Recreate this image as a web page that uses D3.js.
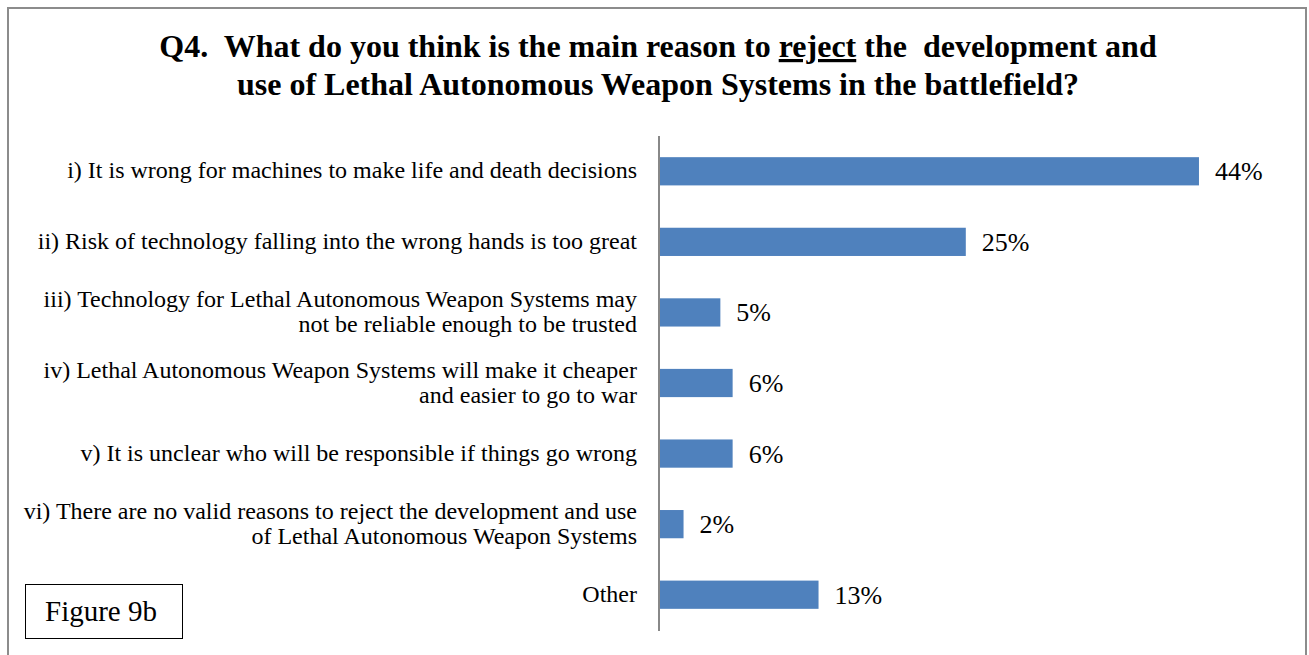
<!DOCTYPE html>
<html>
<head>
<meta charset="utf-8">
<script src="https://cdn.jsdelivr.net/npm/d3@7/dist/d3.min.js"></script>
<style>
  html, body { margin: 0; padding: 0; background: #fff; }
  svg { display: block; }
  text { font-family: "Liberation Serif", "Times New Roman", serif; white-space: pre; }
</style>
</head>
<body>
<svg id="chart" width="1309" height="655"></svg>
<script>
// Survey answers (each label may span two lines)
const categories = [
  ["i) It is wrong for machines to make life and death decisions"],
  ["ii) Risk of technology falling into the wrong hands is too great"],
  ["iii) Technology for Lethal Autonomous Weapon Systems may", "not be reliable enough to be trusted"],
  ["iv) Lethal Autonomous Weapon Systems will make it cheaper", "and easier to go to war"],
  ["v) It is unclear who will be responsible if things go wrong"],
  ["vi) There are no valid reasons to reject the development and use", "of Lethal Autonomous Weapon Systems"],
  ["Other"]
];
const percentages = [44, 25, 5, 6, 6, 2, 13];
const valueLabels = ["44%", "25%", "5%", "6%", "6%", "2%", "13%"];

const svg = d3.select("#chart");

// Outer frame
svg.append("rect")
  .attr("x", 8).attr("y", 8).attr("width", 1298).attr("height", 660)
  .attr("fill", "none").attr("stroke", "#8c8c8c").attr("stroke-width", 2);

// Title
const title = svg.append("text")
  .attr("text-anchor", "middle")
  .attr("font-weight", "bold")
  .attr("font-size", 32)
  .attr("fill", "#000");
const line1 = title.append("tspan").attr("x", 658).attr("y", 57);
line1.append("tspan").text("Q4.  What do you think is the main reason to ");
line1.append("tspan").attr("text-decoration", "underline").text("reject");
line1.append("tspan").text(" the  development and");
title.append("tspan").attr("x", 658).attr("y", 95)
  .text("use of Lethal Autonomous Weapon Systems in the battlefield?");

// Scales
const x = d3.scaleLinear().domain([0, 50]).range([659, 1272.6]);
const y = d3.scaleBand()
  .domain(d3.range(categories.length))
  .range([136, 630])
  .paddingInner(0.6)
  .paddingOuter(0.3);

// Bars
svg.append("g").selectAll("rect")
  .data(percentages)
  .join("rect")
  .attr("x", x(0))
  .attr("y", (d, i) => y(i))
  .attr("width", d => x(d) - x(0))
  .attr("height", y.bandwidth())
  .attr("fill", "#4f81bd");

// Category axis line
svg.append("line")
  .attr("x1", x(0)).attr("x2", x(0))
  .attr("y1", 136).attr("y2", 631)
  .attr("stroke", "#888").attr("stroke-width", 2);

// Category labels
const catG = svg.append("g");
categories.forEach((lines, i) => {
  const cy = y(i) + y.bandwidth() / 2;
  const lh = 25;
  const t = catG.append("text")
    .attr("text-anchor", "end")
    .attr("font-size", 24)
    .attr("fill", "#000");
  lines.forEach((s, k) => {
    t.append("tspan")
      .attr("x", 637)
      .attr("y", cy + 7 + (k - (lines.length - 1) / 2) * lh)
      .text(s);
  });
});

// Value labels
svg.append("g").selectAll("text")
  .data(percentages)
  .join("text")
  .attr("x", d => x(d) + 16)
  .attr("y", (d, i) => y(i) + y.bandwidth() / 2 + 9)
  .attr("font-size", 26)
  .attr("fill", "#000")
  .text((d, i) => valueLabels[i]);

// Figure tag
svg.append("rect")
  .attr("x", 25.5).attr("y", 584.5).attr("width", 157).attr("height", 54)
  .attr("fill", "#fff").attr("stroke", "#000").attr("stroke-width", 1);
svg.append("text")
  .attr("x", 101).attr("y", 621)
  .attr("text-anchor", "middle")
  .attr("font-size", 29)
  .attr("fill", "#000")
  .text("Figure 9b");
</script>
</body>
</html>
